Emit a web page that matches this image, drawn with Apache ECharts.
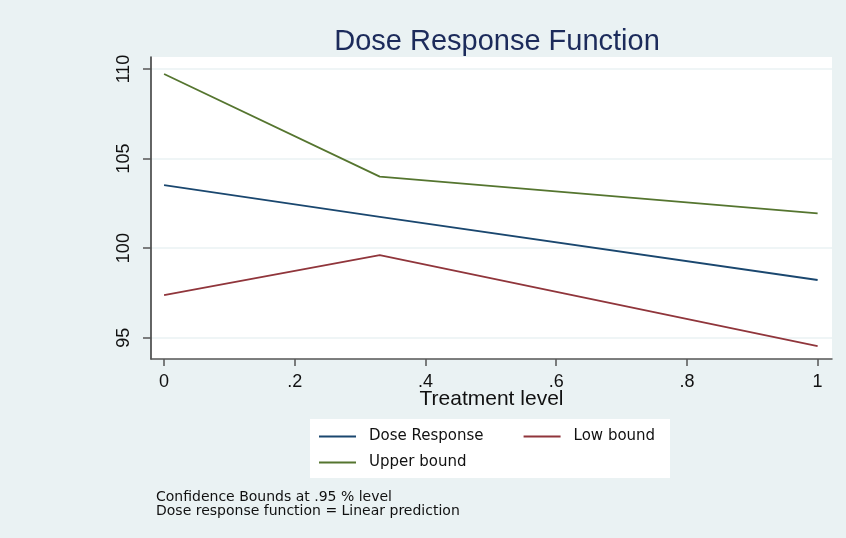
<!DOCTYPE html>
<html>
<head>
<meta charset="utf-8">
<script src="https://cdn.jsdelivr.net/npm/echarts@6/dist/echarts.min.js"></script>
<style>
  html, body { margin: 0; padding: 0; background: #ffffff; }
  #chart { width: 846px; height: 538px; }
</style>
</head>
<body>
<div id="chart"></div>
<script>
// treatment levels where the function is evaluated
var treatment = [0, 0.33, 1];
// dose response and its 95% bounds
var doseResponse = [103.52, 101.75, 98.22];
var lowBound = [97.38, 99.61, 94.53];
var upperBound = [109.72, 103.99, 101.94];
// tick labels
var yTicks = [95, 100, 105, 110];
var xTicks = [0, 0.2, 0.4, 0.6, 0.8, 1];

function pairs(xs, ys) {
  return xs.map(function (x, i) { return [x, ys[i]]; });
}

var chart = echarts.init(document.getElementById('chart'), null, { renderer: 'canvas' });

var labelFont = 'Liberation Sans';
var boxFont = 'DejaVu Sans';

chart.setOption({
  backgroundColor: '#eaf2f3',
  animation: false,
  title: {
    text: 'Dose Response Function',
    left: 492,
    textAlign: 'center',
    top: 22,
    textStyle: { fontFamily: labelFont, fontSize: 29, fontWeight: 'normal', color: '#1c2b5b' }
  },
  graphic: [
    // white box behind the legend (Stata style)
    { type: 'rect', shape: { x: 310, y: 419, width: 360, height: 59 }, style: { fill: '#ffffff' }, z: -1 },
    {
      type: 'text', left: 156, top: 490,
      style: { text: 'Confidence Bounds at .95 % level\nDose response function = Linear prediction',
        font: '14px "DejaVu Sans"', fill: '#111', lineHeight: 14 }
    }
  ],
  legend: [{
    data: ['Dose Response', 'Low bound'],
    left: 319, top: 429, padding: 0,
    icon: 'rect',
    itemWidth: 37, itemHeight: 2, itemGap: 40,
    textStyle: { fontFamily: boxFont, fontSize: 15, color: '#111', padding: [0, 0, 0, 8] }
  }, {
    data: ['Upper bound'],
    left: 319, top: 455, padding: 0,
    icon: 'rect',
    itemWidth: 37, itemHeight: 2,
    textStyle: { fontFamily: boxFont, fontSize: 15, color: '#111', padding: [0, 0, 0, 8] }
  }],
  grid: {
    left: 151, right: 14, top: 57, bottom: 179,
    show: true, backgroundColor: '#ffffff', borderWidth: 0
  },
  xAxis: {
    type: 'value',
    min: -0.02, max: 1.022,
    name: 'Treatment level',
    nameLocation: 'middle',
    nameGap: 30,
    nameMoveOverlap: false,
    nameTextStyle: { fontFamily: labelFont, fontSize: 21, color: '#111', verticalAlign: 'top' },
    axisLine: { show: true, onZero: false, lineStyle: { color: '#555', width: 1.5 } },
    axisTick: { show: true, length: 7, customValues: xTicks, lineStyle: { color: '#555', width: 1.5 } },
    axisLabel: {
      customValues: xTicks, margin: 14,
      fontFamily: labelFont, fontSize: 18, color: '#111',
      formatter: function (v) { return String(v).replace(/^0\./, '.'); }
    },
    splitLine: { show: false }
  },
  yAxis: {
    type: 'value',
    min: 93.81, max: 110.67,
    axisLine: { show: true, onZero: false, lineStyle: { color: '#333', width: 1.5 } },
    axisTick: { show: true, length: 8, customValues: yTicks, lineStyle: { color: '#555', width: 1.5 } },
    axisLabel: {
      customValues: yTicks, rotate: 90, margin: 18,
      fontFamily: labelFont, fontSize: 18, color: '#111'
    },
    splitLine: { show: true, lineStyle: { color: '#eaf2f3', width: 1.5 } }
  },
  series: [{
    name: 'Dose Response', type: 'line', data: pairs(treatment, doseResponse),
    symbol: 'none', color: '#1a476f', lineStyle: { width: 1.8 }
  }, {
    name: 'Low bound', type: 'line', data: pairs(treatment, lowBound),
    symbol: 'none', color: '#90353b', lineStyle: { width: 1.8 }
  }, {
    name: 'Upper bound', type: 'line', data: pairs(treatment, upperBound),
    symbol: 'none', color: '#55752f', lineStyle: { width: 1.8 }
  }]
});
</script>
</body>
</html>
